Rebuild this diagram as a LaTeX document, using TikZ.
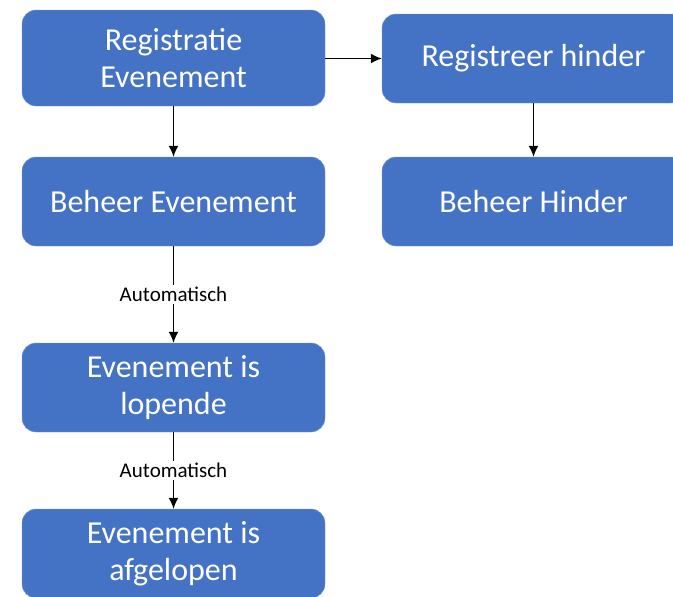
\documentclass[tikz,border=0pt]{standalone}
\usepackage{fontspec}
\setmainfont{Carlito}
\usetikzlibrary{shapes,arrows,arrows.meta}
\definecolor{officeblue}{HTML}{4472C4}

\begin{document}
\begin{tikzpicture}[x=1pt,y=-1pt,
    block_center/.style ={rectangle, rounded corners=14pt, draw=officeblue!70!white, thin,
      fill=officeblue, text=white, align=center, inner sep=0pt,
      minimum width=303pt, minimum height=89pt,
      font=\fontsize{32}{37}\selectfont},
    line/.style ={draw, line width=1.4pt, -{Latex[length=11pt,width=10pt]}, shorten >=0pt},
    auto_label/.style ={fill=white, inner sep=2pt, font=\fontsize{21}{24}\selectfont}]
    \useasboundingbox (0,0) rectangle (673,597);
    % left column
    \node [block_center, minimum height=96pt] (registratie) at (173.5,58) {Registratie\\Evenement};
    \node [block_center] (beheer) at (173.5,201.5) {Beheer Evenement};
    \node [block_center] (lopende) at (173.5,387.5) {Evenement is\\lopende};
    \node [block_center] (afgelopen) at (173.5,553.5) {Evenement is\\afgelopen};
    % right column
    \node [block_center] (hinder) at (533.5,58.5) {Registreer hinder};
    \node [block_center] (beheer_hinder) at (533.5,201.5) {Beheer Hinder};
    % connecting nodes with paths
    \begin{scope}[every path/.style=line]
     \path (registratie.east |- hinder) -- (hinder);
     \path (registratie) -- (beheer);
     \path (hinder) -- (beheer_hinder);
     \path (beheer) -- node[auto_label] (auto_a) {Automatisch} (lopende);
     \path (lopende) -- node[auto_label] (auto_b) {Automatisch} (afgelopen);
    \end{scope}
\end{tikzpicture}
\end{document}
